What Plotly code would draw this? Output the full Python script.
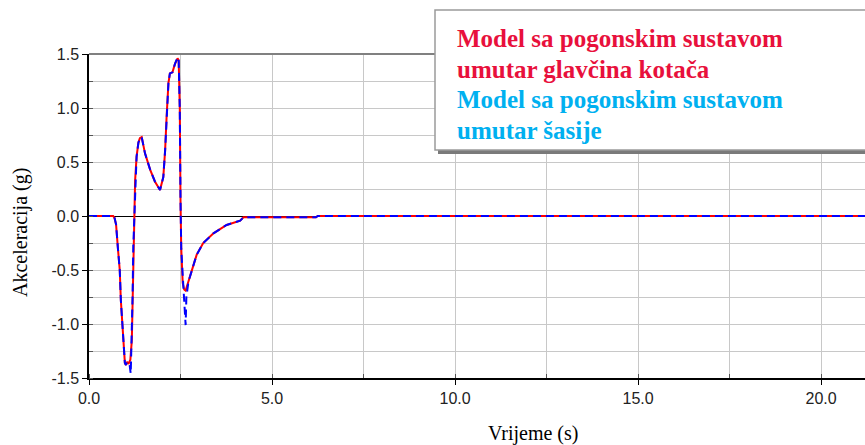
import plotly.graph_objects as go

# Vehicle longitudinal acceleration over time, two drivetrain layouts
t_hub = [0.0, 0.66, 0.70, 0.74, 0.79, 0.84, 0.87, 0.92, 0.96, 0.98, 1.01, 1.04, 1.08, 1.13,
         1.17, 1.19, 1.21, 1.24, 1.26, 1.30, 1.35, 1.39, 1.44, 1.53, 1.67, 1.80, 1.94, 2.03,
         2.08, 2.12, 2.17, 2.21, 2.28, 2.35, 2.42, 2.45, 2.48, 2.50, 2.52, 2.56, 2.60, 2.64,
         2.70, 2.76, 2.94, 3.12, 3.40, 3.76, 4.13, 4.22, 5.13, 6.20, 6.25, 21.2]
a_hub = [0.0, 0.0, -0.02, -0.08, -0.30, -0.50, -0.78, -1.03, -1.21, -1.36, -1.38, -1.35, -1.37, -1.33,
         -1.15, -0.75, -0.28, 0.0, 0.33, 0.55, 0.68, 0.72, 0.73, 0.58, 0.43, 0.32, 0.24, 0.36,
         0.61, 0.92, 1.23, 1.32, 1.33, 1.41, 1.46, 1.44, 1.00, 0.15, -0.30, -0.62, -0.68, -0.69,
         -0.62, -0.56, -0.36, -0.25, -0.16, -0.083, -0.043, -0.012, -0.012, -0.012, 0.0, 0.0]

t_chassis = [0.0, 0.66, 0.70, 0.74, 0.79, 0.84, 0.87, 0.92, 0.96, 0.98, 1.01, 1.04, 1.08, 1.11,
             1.14, 1.17, 1.19, 1.21, 1.24, 1.26, 1.30, 1.35, 1.39, 1.44, 1.53, 1.67, 1.80, 1.94,
             2.03, 2.08, 2.12, 2.17, 2.21, 2.28, 2.35, 2.42, 2.45, 2.48, 2.50, 2.52, 2.56, 2.60,
             2.64, 2.66, 2.72, 2.76, 2.94, 3.12, 3.40, 3.76, 4.13, 4.22, 5.13, 6.20, 6.25, 21.2]
a_chassis = [0.0, 0.0, -0.02, -0.08, -0.30, -0.50, -0.78, -1.03, -1.21, -1.36, -1.38, -1.35, -1.36, -1.38,
             -1.46, -1.15, -0.75, -0.28, 0.0, 0.33, 0.55, 0.68, 0.72, 0.73, 0.58, 0.43, 0.32, 0.24,
             0.36, 0.61, 0.92, 1.23, 1.32, 1.33, 1.41, 1.47, 1.44, 1.00, 0.15, -0.30, -0.55, -0.80,
             -1.01, -0.75, -0.60, -0.56, -0.36, -0.25, -0.16, -0.083, -0.043, -0.012, -0.012, -0.012, 0.0, 0.0]

legend_lines = [
    ("Model sa pogonskim sustavom", "#e8103c"),
    ("umutar glavčina kotača", "#e8103c"),
    ("Model sa pogonskim sustavom", "#00b0f0"),
    ("umutar šasije", "#00b0f0"),
]

x_ticks = [0, 5, 10, 15, 20]
y_ticks = [-1.5, -1.0, -0.5, 0.0, 0.5, 1.0, 1.5]

W, H = 865, 445
L, R, T, B = 89, 0, 54, 67
PW, PH = W - L - R, H - T - B


def px(xp):
    return (xp - L) / PW


def py(yp):
    return (H - B - yp) / PH


fig = go.Figure()
fig.add_trace(go.Scatter(x=t_hub, y=a_hub, mode="lines",
                         line=dict(color="#ff0000", width=2), showlegend=False))
fig.add_trace(go.Scatter(x=t_chassis, y=a_chassis, mode="lines",
                         line=dict(color="#0000ff", width=2, dash="8px,5px"), showlegend=False))

grid = "#c8c8c8"
fig.update_xaxes(range=[0, 21.2], tickvals=x_ticks, ticktext=[f"{v:.1f}" for v in x_ticks],
                 showgrid=True, gridcolor=grid, gridwidth=1,
                 minor=dict(dtick=2.5, showgrid=True, gridcolor=grid, ticks="inside", ticklen=4, tickcolor="#555"),
                 showline=True, linecolor="black", linewidth=1.5,
                 ticks="outside", ticklen=5, tickcolor="black",
                 zeroline=False,
                 tickfont=dict(family="Liberation Sans", size=16, color="#222"))
fig.update_yaxes(range=[-1.5, 1.5], tickvals=y_ticks, ticktext=[f"{v:.1f}" for v in y_ticks],
                 showgrid=True, gridcolor=grid, gridwidth=1,
                 minor=dict(dtick=0.25, showgrid=True, gridcolor=grid, ticks="inside", ticklen=4, tickcolor="#555"),
                 showline=True, linecolor="black", linewidth=1.5,
                 ticks="outside", ticklen=5, tickcolor="black",
                 zeroline=True, zerolinecolor="black", zerolinewidth=1,
                 tickfont=dict(family="Liberation Sans", size=16, color="#222"))

shapes = [
    # top frame line
    dict(type="line", xref="paper", yref="paper", x0=0, x1=1, y0=1, y1=1,
         line=dict(color="#808080", width=2)),
    # legend shadow and box
    dict(type="rect", xref="paper", yref="paper",
         x0=px(438), x1=px(880), y0=py(154), y1=py(13),
         fillcolor="#7a7a7a", line=dict(width=0)),
    dict(type="rect", xref="paper", yref="paper",
         x0=px(435), x1=px(878), y0=py(150), y1=py(10),
         fillcolor="white", line=dict(color="#9a9a9a", width=1.5)),
]

annotations = [
    dict(text="Akceleracija (g)", xref="paper", yref="paper", x=px(20), y=py(233),
         textangle=-90, showarrow=False, xanchor="center", yanchor="middle",
         font=dict(family="Liberation Serif", size=20, color="black")),
    dict(text="Vrijeme (s)", xref="paper", yref="paper", x=px(533), y=py(433),
         showarrow=False, xanchor="center", yanchor="middle",
         font=dict(family="Liberation Serif", size=20, color="black")),
]
line_y = [38, 69, 100, 130]
for (txt, col), yy in zip(legend_lines, line_y):
    annotations.append(dict(text=f"<b>{txt}</b>", xref="paper", yref="paper", x=px(455), y=py(yy),
                            showarrow=False, xanchor="left", yanchor="middle",
                            font=dict(family="Liberation Serif", size=25, color=col)))

fig.update_layout(width=W, height=H, margin=dict(l=L, r=R, t=T, b=B),
                  paper_bgcolor="white", plot_bgcolor="white",
                  shapes=shapes, annotations=annotations, showlegend=False)

fig.write_html("out.html")
